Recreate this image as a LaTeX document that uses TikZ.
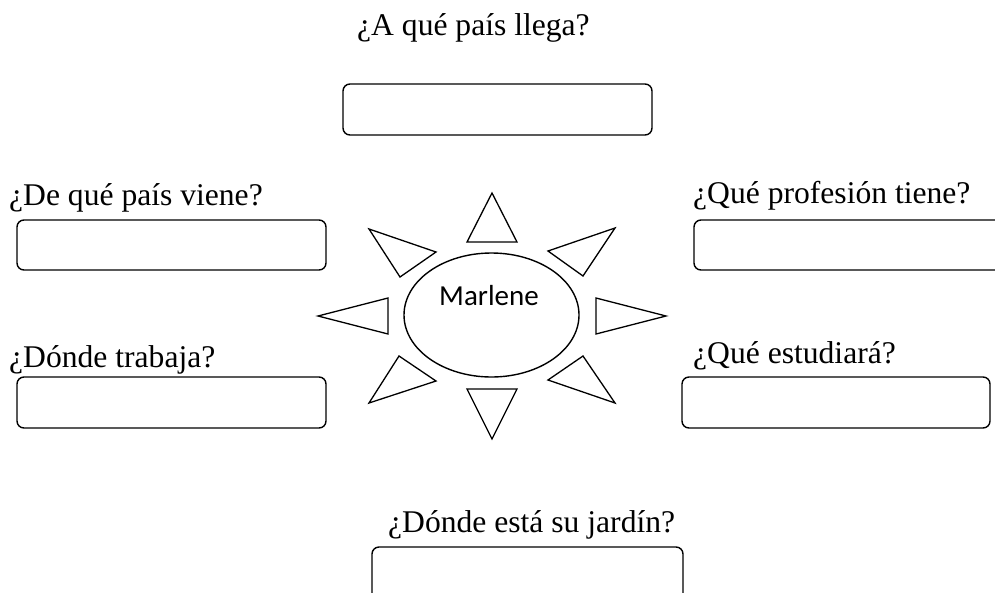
\documentclass[tikz,border=0pt]{standalone}
\usepackage{fontspec}
\setmainfont{Liberation Serif}
\newfontfamily\calibrifont{Carlito}
\usetikzlibrary{shapes.geometric}
\tikzset{
  answerbox/.style={draw, line width=1.4pt, rounded corners=7pt, inner sep=0pt},
  question/.style={inner sep=0pt, anchor=base west, font=\fontsize{31.6}{36}\selectfont},
  ray/.style={draw, line width=1.3pt, line join=miter},
}
\begin{document}
\begin{tikzpicture}[x=1pt,y=-1pt]
\clip (0,0) rectangle (995,592);
\fill[white] (0,0) rectangle (995,592);
% questions
\node[question] (q1) at (357,35) {¿A qué país llega?};
\node[question] (q2) at (9,205) {¿De qué país viene?};
\node[question] (q3) at (693,203) {¿Qué profesión tiene?};
\node[question] (q4) at (9,367) {¿Dónde trabaja?};
\node[question] (q5) at (693,363) {¿Qué estudiará?};
\node[question] (q6) at (388,532) {¿Dónde está su jardín?};
% answer boxes
\draw[answerbox] (343,84) rectangle (652,135) node[pos=.5] (b1) {};
\draw[answerbox] (17,220) rectangle (326,270) node[pos=.5] (b2) {};
\draw[answerbox] (694,220) rectangle (1010,270) node[pos=.5] (b3) {};
\draw[answerbox] (17,377) rectangle (326,428) node[pos=.5] (b4) {};
\draw[answerbox] (682,377) rectangle (990,428) node[pos=.5] (b5) {};
\draw[answerbox] (372,547) rectangle (683,600) node[pos=.5] (b6) {};
% sun
\node[draw, ellipse, line width=1.4pt, minimum width=175pt, minimum height=124pt, inner sep=0pt] (sun) at (491.5,315) {};
\node[inner sep=0pt, anchor=base, font=\calibrifont\fontsize{29}{32}\selectfont] (name) at (489,305) {Marlene};
% rays
\draw[ray] (492,193) -- (467,242) -- (517,242) -- cycle;
\draw[ray] (492,439) -- (467,389) -- (517,389) -- cycle;
\draw[ray] (318,316) -- (388,298) -- (388,334) -- cycle;
\draw[ray] (666,316) -- (596,298) -- (596,334) -- cycle;
\draw[ray] (369,229) -- (436,252) -- (400,277) -- cycle;
\draw[ray] (615,228) -- (548,251) -- (583,276) -- cycle;
\draw[ray] (369,403) -- (436,381) -- (399,356) -- cycle;
\draw[ray] (615,403) -- (548,380) -- (583,356) -- cycle;
\end{tikzpicture}
\end{document}
